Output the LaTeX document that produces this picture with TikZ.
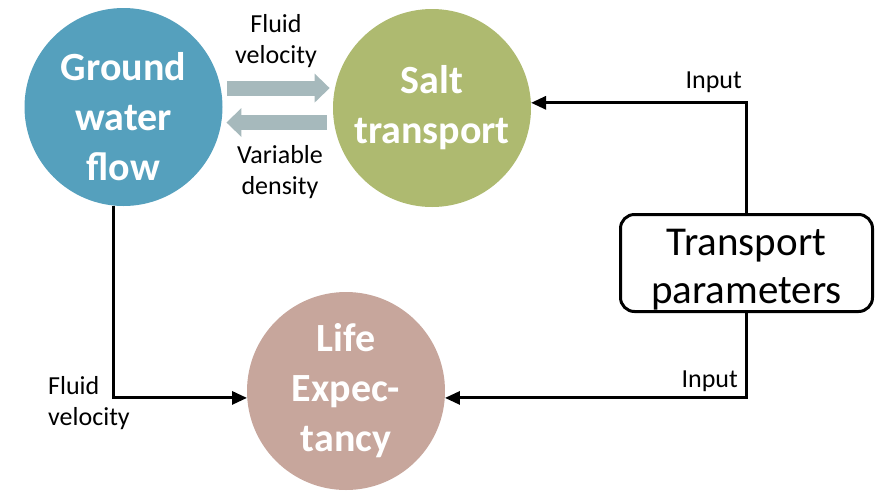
\documentclass[tikz,border=0pt]{standalone}
\usepackage{fontspec}
\setmainfont{Carlito}
\usetikzlibrary{arrows.meta}
\definecolor{gwblue}{HTML}{55A0BD}
\definecolor{saltgreen}{HTML}{AEBA70}
\definecolor{lifepink}{HTML}{C7A69C}
\definecolor{arrowgrey}{HTML}{A6B9BC}
\begin{document}
\begin{tikzpicture}[x=1pt,y=-1pt,
    bubble/.style={circle,minimum size=198pt,inner sep=0pt,text=white,align=center,
      font=\bfseries\fontsize{40}{50}\selectfont},
    conn/.style={line width=3pt,-{Triangle[length=15pt,width=13pt]}},
    fatarrow/.style={arrowgrey,line width=15pt,-{Triangle[length=15pt,width=29pt,line width=0pt]}},
    lbl/.style={font=\fontsize{26}{31}\selectfont,inner sep=0pt}]
  \useasboundingbox (0,0) rectangle (881,491);
  % the three models
  \node[bubble,fill=gwblue] (gw) at (123.5,107) {\rule{0pt}{48pt}Ground\\water\\flow};
  \node[bubble,fill=saltgreen] (salt) at (432,108) {Salt\\transport};
  \node[bubble,fill=lifepink] (life) at (346,391) {Life\\Expec-\\tancy};
  \node[draw,line width=3pt,rounded corners=14pt,minimum width=252pt,minimum height=97pt,
    inner sep=0pt,align=center,font=\fontsize{41}{48}\selectfont] (tp) at (746.5,263)
    {\rule{0pt}{39pt}Transport\\parameters};
  % coupling
  \draw[fatarrow,shorten <=6pt,shorten >=5pt] (gw.11) -- (gw.11 -| salt.169);
  \draw[fatarrow,shorten <=7pt,shorten >=5pt] (gw.-9 -| salt.189) -- (gw.-9);
  \node[lbl,align=center] (fv1) at (276,41) {Fluid\\velocity};
  \node[lbl,align=center] (vd) at (280,172.5) {Variable\\density};
  % inputs
  \draw[conn] (tp.north) |- (salt.3);
  \draw[conn] (tp.south) |- (life.-4);
  \draw[conn] (gw.-96) |- (life.184);
  \node[lbl,anchor=east] (in1) at (742,82.3) {Input};
  \node[lbl,anchor=east] (in2) at (738,381) {Input};
  \node[lbl,align=left,anchor=west] (fv2) at (48,403) {Fluid\\velocity};
\end{tikzpicture}
\end{document}
